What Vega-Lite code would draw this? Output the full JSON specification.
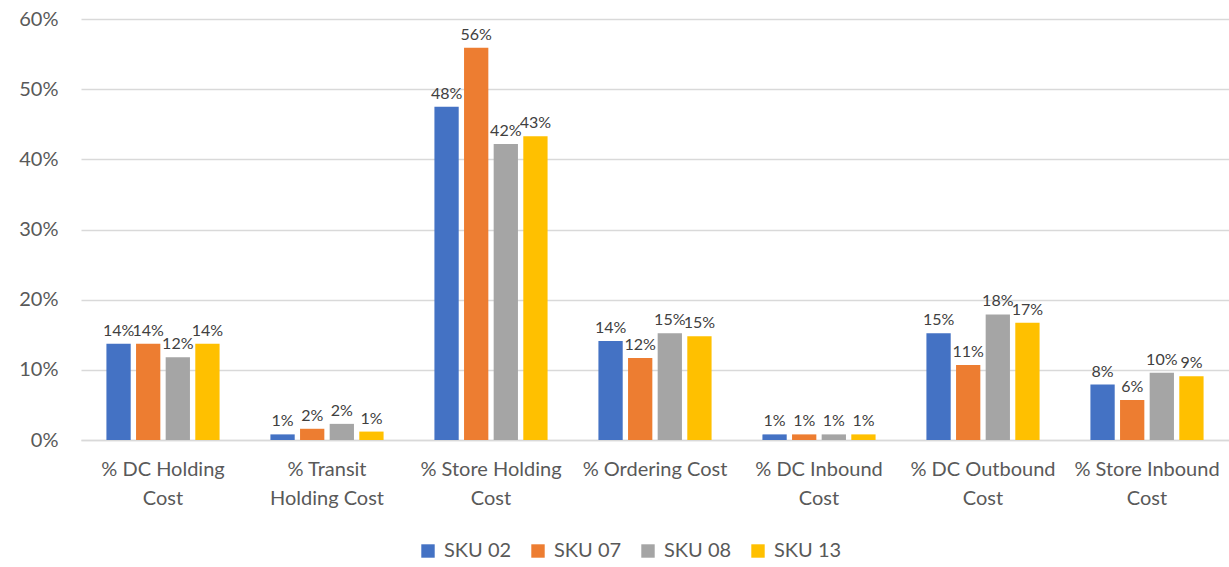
{
  "$schema": "https://vega.github.io/schema/vega-lite/v6.json",
  "width": 1148,
  "height": 421,
  "autosize": {"type": "none"},
  "padding": {"left": 81, "top": 19, "right": 0, "bottom": 127},
  "background": "white",
  "config": {
    "font": "Lato",
    "view": {"stroke": null}
  },
  "data": {
    "values": [
      {"category": "% DC Holding|Cost", "sku": "SKU 02", "value": 0.137},
      {"category": "% DC Holding|Cost", "sku": "SKU 07", "value": 0.137},
      {"category": "% DC Holding|Cost", "sku": "SKU 08", "value": 0.118},
      {"category": "% DC Holding|Cost", "sku": "SKU 13", "value": 0.137},
      {"category": "% Transit|Holding Cost", "sku": "SKU 02", "value": 0.008},
      {"category": "% Transit|Holding Cost", "sku": "SKU 07", "value": 0.016},
      {"category": "% Transit|Holding Cost", "sku": "SKU 08", "value": 0.023},
      {"category": "% Transit|Holding Cost", "sku": "SKU 13", "value": 0.012},
      {"category": "% Store Holding|Cost", "sku": "SKU 02", "value": 0.475},
      {"category": "% Store Holding|Cost", "sku": "SKU 07", "value": 0.559},
      {"category": "% Store Holding|Cost", "sku": "SKU 08", "value": 0.422},
      {"category": "% Store Holding|Cost", "sku": "SKU 13", "value": 0.433},
      {"category": "% Ordering Cost", "sku": "SKU 02", "value": 0.141},
      {"category": "% Ordering Cost", "sku": "SKU 07", "value": 0.117},
      {"category": "% Ordering Cost", "sku": "SKU 08", "value": 0.152},
      {"category": "% Ordering Cost", "sku": "SKU 13", "value": 0.148},
      {"category": "% DC Inbound|Cost", "sku": "SKU 02", "value": 0.008},
      {"category": "% DC Inbound|Cost", "sku": "SKU 07", "value": 0.008},
      {"category": "% DC Inbound|Cost", "sku": "SKU 08", "value": 0.008},
      {"category": "% DC Inbound|Cost", "sku": "SKU 13", "value": 0.008},
      {"category": "% DC Outbound|Cost", "sku": "SKU 02", "value": 0.152},
      {"category": "% DC Outbound|Cost", "sku": "SKU 07", "value": 0.107},
      {"category": "% DC Outbound|Cost", "sku": "SKU 08", "value": 0.179},
      {"category": "% DC Outbound|Cost", "sku": "SKU 13", "value": 0.167},
      {"category": "% Store Inbound|Cost", "sku": "SKU 02", "value": 0.079},
      {"category": "% Store Inbound|Cost", "sku": "SKU 07", "value": 0.057},
      {"category": "% Store Inbound|Cost", "sku": "SKU 08", "value": 0.096},
      {"category": "% Store Inbound|Cost", "sku": "SKU 13", "value": 0.091}
    ]
  },
  "encoding": {
    "x": {
      "field": "category",
      "type": "nominal",
      "sort": null,
      "scale": {"paddingInner": 0.31, "paddingOuter": 0.155},
      "axis": {
        "title": null,
        "labelAngle": 0,
        "labelExpr": "split(datum.label, '|')",
        "labelFontSize": 20,
        "labelColor": "#595959",
        "labelLineHeight": 29,
        "labelPadding": 19,
        "ticks": false,
        "domainColor": "#D9D9D9",
        "domainWidth": 1.5
      }
    },
    "xOffset": {
      "field": "sku",
      "type": "nominal",
      "scale": {"paddingInner": 0.18}
    },
    "y": {
      "field": "value",
      "type": "quantitative",
      "scale": {"domain": [0, 0.6]},
      "axis": {
        "title": null,
        "format": ".0%",
        "values": [0, 0.1, 0.2, 0.3, 0.4, 0.5, 0.6],
        "labelFontSize": 20,
        "labelColor": "#595959",
        "labelPadding": 23,
        "ticks": false,
        "domain": false,
        "gridColor": "#D9D9D9",
        "gridWidth": 1.5
      }
    }
  },
  "layer": [
    {
      "mark": {"type": "bar"},
      "encoding": {
        "color": {
          "field": "sku",
          "type": "nominal",
          "scale": {
            "domain": ["SKU 02", "SKU 07", "SKU 08", "SKU 13"],
            "range": ["#4472C4", "#ED7D31", "#A5A5A5", "#FFC000"]
          },
          "legend": {
            "title": null,
            "orient": "none",
            "direction": "horizontal",
            "legendX": 337,
            "legendY": 522,
            "symbolType": "square",
            "symbolSize": 180,
            "symbolStrokeWidth": 0,
            "labelFontSize": 20,
            "labelColor": "#595959",
            "columnPadding": 16,
            "labelOffset": 6
          }
        }
      }
    },
    {
      "mark": {
        "type": "text",
        "baseline": "bottom",
        "dy": -5,
        "fontSize": 16,
        "color": "#404040"
      },
      "encoding": {
        "text": {"field": "value", "type": "quantitative", "format": ".0%"}
      }
    }
  ]
}
